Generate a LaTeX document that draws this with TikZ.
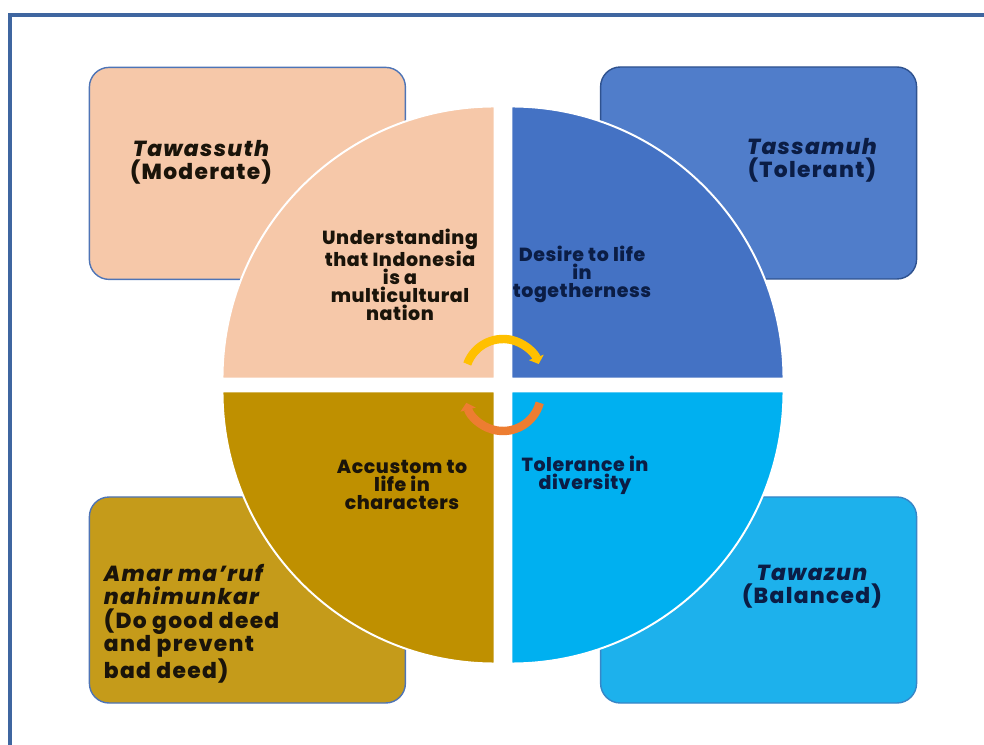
\documentclass[tikz,border=0pt]{standalone}
\usepackage{fontspec}
\setmainfont{Poppins}[BoldFont={* ExtraBold}, BoldItalicFont={* ExtraBold Italic}]
\usetikzlibrary{positioning, arrows.meta}

\definecolor{peach}{HTML}{F6C8A9}
\definecolor{royal}{HTML}{4472C4}
\definecolor{royalbox}{HTML}{507DCA}
\definecolor{gold}{HTML}{BF9000}
\definecolor{goldbox}{HTML}{C59B1A}
\definecolor{sky}{HTML}{00B0F0}
\definecolor{skybox}{HTML}{1DB1EC}
\definecolor{edgeblue}{HTML}{4E74B6}
\definecolor{darkedge}{HTML}{2F528F}
\definecolor{framecol}{HTML}{3F66A0}
\definecolor{navy}{HTML}{0B1D45}
\definecolor{ink}{HTML}{1A140A}
\definecolor{arrowyellow}{HTML}{FFC000}
\definecolor{arroworange}{HTML}{ED7D31}

\begin{document}
\begin{tikzpicture}[
  align=center,
  % Estilos de bloques
  cornerbox/.style={draw, rectangle, rounded corners=14pt, line width=1pt, minimum width=7.9cm},
  quadrant/.style={draw=white, line width=1.4pt},
  boxtext/.style={font=\bfseries\fontsize{15.5}{16.5}\selectfont\addfontfeatures{LetterSpace=6}, text=ink},
  quadtext/.style={font=\bfseries\fontsize{13.5}{12.8}\selectfont\addfontfeatures{LetterSpace=3}, text=ink},
  % Estilos de flechas
  turnarrow/.style={line width=6pt, -{Triangle[width=11pt, length=5pt]}}
]

  \useasboundingbox (-12.575,-9.0) rectangle (12.025,9.625);

  % Page frame (left and top only)
  \draw[framecol, line width=2.2pt] (-12.325,-9.0) -- (-12.325,9.25) -- (12.025,9.25);

  % ==========================================
  % CORNER BOXES
  % ==========================================
  \node[cornerbox, minimum height=5.3cm, fill=peach, draw=edgeblue] (boxtl) at (-6.39,5.29) {};
  \node[cornerbox, minimum height=5.3cm, fill=royalbox, draw=darkedge] (boxtr) at (6.39,5.30) {};
  \node[cornerbox, minimum height=5.15cm, fill=goldbox, draw=edgeblue] (boxbl) at (-6.39,-5.375) {};
  \node[cornerbox, minimum height=5.15cm, fill=skybox, draw=edgeblue!70!sky] (boxbr) at (6.39,-5.375) {};

  % ==========================================
  % QUARTER CIRCLES
  % ==========================================
  \filldraw[quadrant, fill=peach] (-0.2125,0.1625) -- ++(-6.8,0) arc[start angle=180, end angle=90, radius=6.8] -- cycle;
  \filldraw[quadrant, fill=royal] (0.2125,0.1625) -- ++(0,6.8) arc[start angle=90, end angle=0, radius=6.8] -- cycle;
  \filldraw[quadrant, fill=sky] (0.2125,-0.1625) -- ++(6.8,0) arc[start angle=0, end angle=-90, radius=6.8] -- cycle;
  \filldraw[quadrant, fill=gold] (-0.2125,-0.1625) -- ++(0,-6.8) arc[start angle=270, end angle=180, radius=6.8] -- cycle;

  % Box labels
  \node[boxtext] (tawassuth) at (-7.55,5.575) {{\itshape Tawassuth}\\(Moderate)};
  \node[boxtext, text=navy] (tassamuh) at (7.725,5.625) {{\itshape Tassamuh}\\(Tolerant)};
  \node[boxtext, text=navy] (tawazun) at (7.725,-5.05) {{\itshape Tawazun}\\(Balanced)};
  \node[boxtext, align=left, anchor=west] (amar) at (-10.1,-5.97) {{\itshape Amar ma’ruf}\\{\itshape nahimunkar}\\(Do good deed\\and prevent\\bad deed)};

  % Quadrant labels
  \node[quadtext] (understanding) at (-2.575,2.75) {Understanding\\that Indonesia\\is a\\multicultural\\nation};
  \node[quadtext, text=navy] (desire) at (1.975,2.775) {Desire to life\\in\\togetherness};
  \node[quadtext] (accustom) at (-2.525,-2.5) {Accustom to\\life in\\characters};
  \node[quadtext, text=navy] (tolerance) at (2.05,-2.25) {Tolerance in\\diversity};

  % Cycle arrows in the middle
  \draw[turnarrow, arrowyellow] ([shift={(160:0.95)}]0,0.2) arc[start angle=160, end angle=20, radius=0.95];
  \draw[turnarrow, arroworange] ([shift={(-15:0.95)}]0,-0.2) arc[start angle=-15, end angle=-165, radius=0.95];

\end{tikzpicture}
\end{document}
